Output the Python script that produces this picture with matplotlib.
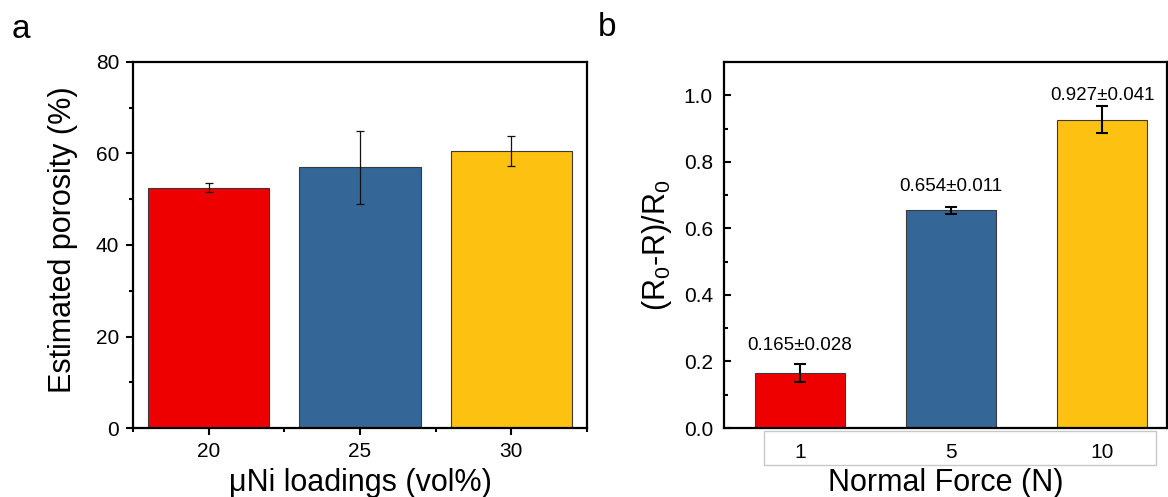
import numpy as np
import matplotlib
matplotlib.use("Agg")
import matplotlib.pyplot as plt
from matplotlib.ticker import MultipleLocator
from matplotlib.patches import Rectangle

plt.rcParams["font.family"] = ["Liberation Sans", "DejaVu Sans"]
plt.rcParams["mathtext.default"] = "regular"

# panel a
loadings = [20, 25, 30]
porosity = [52.5, 57.0, 60.6]
porosity_err = [1.0, 8.0, 3.3]

# panel b
forces = ["1", "5", "10"]
ratio = [0.165, 0.654, 0.927]
ratio_err = [0.028, 0.011, 0.041]
ratio_text = ["0.165±0.028", "0.654±0.011", "0.927±0.041"]
label_y = [0.248, 0.727, 1.0]

colors = ["#ee0000", "#346798", "#fdc111"]

W, H = 1168, 497
fig = plt.figure(figsize=(W / 100, H / 100), dpi=100)
ax1 = fig.add_axes([133 / W, 69 / H, 454 / W, 366 / H])
ax2 = fig.add_axes([724 / W, 69 / H, 443 / W, 366 / H])

# ---- a ----
ax1.bar(loadings, porosity, width=4, color=colors, edgecolor="#3a3a3a", linewidth=0.8,
        yerr=porosity_err,
        error_kw=dict(ecolor="#111111", elinewidth=0.9, capsize=3, capthick=0.9))
ax1.set_xlim(17.5, 32.5)
ax1.set_ylim(0, 80)
ax1.set_xticks(loadings)
ax1.xaxis.set_minor_locator(MultipleLocator(2.5))
ax1.yaxis.set_major_locator(MultipleLocator(20))
ax1.yaxis.set_minor_locator(MultipleLocator(10))
ax1.tick_params(which="major", direction="out", length=5, width=1.5, labelsize=15, pad=5)
ax1.tick_params(which="minor", direction="out", length=3, width=1.5)
ax1.set_xlabel("μNi loadings (vol%)", fontsize=22, labelpad=5)
ax1.set_ylabel("Estimated porosity (%)", fontsize=22)
ax1.yaxis.set_label_coords(-0.121, 0.514)
for s in ax1.spines.values():
    s.set_linewidth(1.6)

# ---- b ----
x = np.arange(len(forces))
ax2.bar(x, ratio, width=0.6, color=colors, edgecolor="#3a3a3a", linewidth=0.8,
        yerr=ratio_err,
        error_kw=dict(ecolor="black", elinewidth=1.5, capsize=4.5, capthick=1.5))
for xi, t, ty in zip(x, ratio_text, label_y):
    ax2.text(xi, ty, t, ha="center", va="center", fontsize=13.5)
ax2.set_xlim(-0.503, 2.43)
ax2.set_ylim(0, 1.1)
ax2.set_xticks(x)
ax2.set_xticklabels(forces)
ax2.yaxis.set_major_locator(MultipleLocator(0.2))
ax2.yaxis.set_minor_locator(MultipleLocator(0.1))
ax2.yaxis.set_major_formatter(matplotlib.ticker.FormatStrFormatter("%.1f"))
ax2.tick_params(axis="x", length=0, labelsize=15, pad=11)
ax2.tick_params(axis="y", which="major", direction="in", length=5, width=1.5, labelsize=15, pad=8)
ax2.tick_params(axis="y", which="minor", direction="in", length=3, width=1.5)
ax2.set_xlabel("Normal Force (N)", fontsize=22, labelpad=4)
ax2.set_ylabel("(R$_0$-R)/R$_0$", fontsize=22, labelpad=7)
for s in ax2.spines.values():
    s.set_linewidth(1.6)
ax2.add_patch(Rectangle((0.0903, -0.101), 0.885, 0.093, transform=ax2.transAxes,
                        fill=False, edgecolor="#c8c8c8", linewidth=1, clip_on=False))

fig.text(12 / W, 1 - 30 / H, "a", fontsize=24, va="center")
fig.text(598 / W, 1 - 28 / H, "b", fontsize=24, va="center")

fig.savefig("out.png", dpi=100)
